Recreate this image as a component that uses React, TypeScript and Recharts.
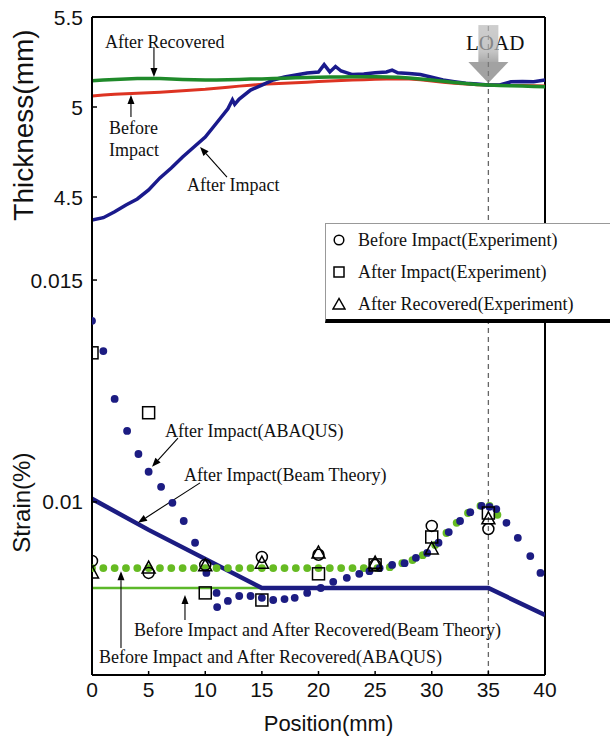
import { ComposedChart, Line, Scatter, XAxis, YAxis, ReferenceLine, ReferenceDot } from "recharts"

const SANS = '"Liberation Sans", Arial, sans-serif'
const SERIF = '"Liberation Serif", "Times New Roman", serif'

const positionTicks = [0, 5, 10, 15, 20, 25, 30, 35, 40]
const thicknessTicks = [4.5, 5, 5.5]
const strainTicks = [0.01, 0.015]

// thickness scan (mm), read every 1 mm
const scanPositions = [
  0, 1, 2, 3, 4, 5, 6, 7, 8, 9, 10, 11, 12, 13, 14, 15, 16, 17, 18, 19, 20,
  21, 22, 23, 24, 25, 26, 27, 28, 29, 30, 31, 32, 33, 34, 35, 36, 37, 38, 39, 40,
]
const beforeImpactThickness = [
  5.061, 5.066, 5.071, 5.074, 5.077, 5.079, 5.082, 5.086, 5.09, 5.094, 5.098,
  5.104, 5.11, 5.116, 5.121, 5.126, 5.129, 5.132, 5.135, 5.138, 5.141,
  5.144, 5.147, 5.15, 5.152, 5.154, 5.155, 5.156, 5.156, 5.151, 5.144,
  5.138, 5.132, 5.128, 5.124, 5.122, 5.121, 5.12, 5.119, 5.118, 5.117,
]
const afterRecoveredThickness = [
  5.146, 5.15, 5.153, 5.156, 5.158, 5.159, 5.158, 5.156, 5.153, 5.151, 5.15,
  5.15, 5.151, 5.153, 5.155, 5.156, 5.158, 5.16, 5.162, 5.164, 5.165,
  5.166, 5.167, 5.168, 5.168, 5.168, 5.167, 5.165, 5.161, 5.156, 5.15,
  5.143, 5.136, 5.13, 5.125, 5.122, 5.12, 5.118, 5.116, 5.114, 5.113,
]
const afterImpactScanPositions = [
  0, 1, 2, 3, 4, 5, 6, 7, 8, 9, 10, 11, 12, 12.4, 12.6, 13, 14, 15, 16, 17, 18,
  19, 20, 20.5, 21, 21.5, 22, 23, 24, 25, 26, 26.5, 27, 28, 29, 30, 31, 32, 33,
  34, 35, 36, 37, 38, 39, 40,
]
const afterImpactThickness = [
  4.372, 4.385, 4.418, 4.456, 4.489, 4.539, 4.606, 4.661, 4.722, 4.778, 4.833,
  4.911, 4.99, 5.04, 5.015, 5.044, 5.094, 5.122, 5.15, 5.167, 5.178,
  5.189, 5.194, 5.235, 5.195, 5.225, 5.2, 5.18, 5.183, 5.19, 5.195, 5.205,
  5.19, 5.186, 5.18, 5.165, 5.15, 5.141, 5.132, 5.128, 5.122, 5.122, 5.14,
  5.142, 5.14, 5.15,
]

// strain, experiment
const expPositions = [0, 5, 10, 15, 20, 25, 30, 35]
const beforeImpactExp = [0.00867, 0.0084, 0.00858, 0.00876, 0.00881, 0.00858, 0.00946, 0.00939]
const afterImpactExp = [0.01336, 0.01201, 0.00795, 0.00779, 0.00838, 0.00858, 0.00921, 0.00975]
const afterRecoveredExp = [0.0084, 0.00851, 0.00856, 0.00862, 0.00885, 0.00862, 0.00894, 0.00962]

// strain, ABAQUS
const afterImpactAbaqusPositions = [
  0, 1, 2, 3.1, 4.1, 5, 6.1, 7.1, 8.1, 9.1, 10.1, 11, 11.05, 12, 13, 14, 15, 16,
  17, 17.9, 19, 20.2, 21.3, 22.5, 23.6, 24.5, 25.4, 26.5, 27.6, 28.6, 29.6,
  30.6, 31.5, 32.5, 33.4, 34.4, 35.1, 35.7, 36.6, 37.6, 38.7, 39.6,
]
const afterImpactAbaqus = [
  0.01408, 0.0134, 0.01232, 0.0116, 0.01108, 0.01068, 0.01034, 0.00998,
  0.00957, 0.00908, 0.0084, 0.00795, 0.00763, 0.00777, 0.00788, 0.00788,
  0.00784, 0.00779, 0.00781, 0.00784, 0.00795, 0.00806, 0.0082, 0.00829,
  0.00838, 0.00844, 0.00851, 0.00858, 0.00862, 0.00874, 0.00885, 0.00908,
  0.00932, 0.00957, 0.00977, 0.00991, 0.00989, 0.00984, 0.00953, 0.00919,
  0.00878, 0.0084,
]
const recoveredAbaqusPositions = [
  0, 1, 2, 3, 4, 5, 6, 7, 8, 9, 10, 11, 12, 13, 14, 15, 16, 17, 18, 19, 20, 21,
  22, 23, 24, 25.2, 26.3, 27.4, 28.3, 29.2, 30.3, 31.3, 32.2, 33.2, 34.3, 35.1,
  35.8,
]
const recoveredAbaqus = [
  0.00851, 0.00851, 0.00851, 0.00851, 0.00851, 0.00851, 0.00851, 0.00851,
  0.00851, 0.00851, 0.00851, 0.00851, 0.00851, 0.00851, 0.00851, 0.00851,
  0.00851, 0.00851, 0.00851, 0.00851, 0.00851, 0.00851, 0.00851, 0.00851,
  0.00851, 0.00851, 0.00853, 0.00862, 0.00869, 0.0088, 0.00903, 0.0093,
  0.00953, 0.00975, 0.00991, 0.00991, 0.00971,
]

// strain, beam theory
const afterImpactBeamPositions = [0, 5, 15, 35, 40]
const afterImpactBeam = [0.01007, 0.00937, 0.00806, 0.00806, 0.00745]
const recoveredBeamPositions = [0, 15]
const recoveredBeam = [0.00806, 0.00806]

const legendItems = [
  { name: "Before Impact(Experiment)", symbol: "circle" },
  { name: "After Impact(Experiment)", symbol: "square" },
  { name: "After Recovered(Experiment)", symbol: "triangle" },
]

const zip = (xs: number[], ys: number[]) => xs.map((x, i) => ({ x, y: ys[i] }))

const NAVY = "#1c1c82"

const Arrow = (props: any) => {
  const { x1, y1, x2, y2 } = props
  const a = Math.atan2(y2 - y1, x2 - x1)
  const len = 9
  const w = 3.5
  const bx = x2 - len * Math.cos(a)
  const by = y2 - len * Math.sin(a)
  const p1 = `${bx + w * Math.sin(a)},${by - w * Math.cos(a)}`
  const p2 = `${bx - w * Math.sin(a)},${by + w * Math.cos(a)}`
  return (
    <g>
      <line x1={x1} y1={y1} x2={bx} y2={by} stroke="#000" strokeWidth={1.1} />
      <polygon points={`${x2},${y2} ${p1} ${p2}`} fill="#000" />
    </g>
  )
}

const note = (text: string, anchor: "start" | "middle" = "start", size = 18) => (p: any) => (
  <text
    x={p.cx}
    y={p.cy}
    textAnchor={anchor}
    dominantBaseline="central"
    fontFamily={SERIF}
    fontSize={size}
    fill="#111"
  >
    {text}
  </text>
)

const LoadArrow = (p: any) => {
  const { cx, cy } = p
  return (
    <g opacity={0.72}>
      <defs>
        <linearGradient id="loadShaft" x1="0" y1="0" x2="0" y2="1">
          <stop offset="0%" stopColor="#bcbcbc" />
          <stop offset="70%" stopColor="#b0b0b0" />
          <stop offset="100%" stopColor="#8a8a8a" />
        </linearGradient>
      </defs>
      <rect x={cx - 10} y={cy - 58} width={20} height={37} fill="url(#loadShaft)" />
      <polygon points={`${cx - 20},${cy - 21} ${cx + 20},${cy - 21} ${cx},${cy}`} fill="#7f7f7f" />
    </g>
  )
}

const YTick = (props: any) => {
  const { x, y, payload } = props
  return (
    <g>
      <line x1={x + 9} x2={x + 14} y1={y} y2={y} stroke="#000" strokeWidth={1.5} />
      <text x={x} y={y} textAnchor="end" dominantBaseline="central" fontFamily={SANS} fontSize={21} fill="#111">
        {payload.value}
      </text>
    </g>
  )
}

const XTick = (props: any) => {
  const { x, y, payload } = props
  return (
    <g>
      <line x1={x} x2={x} y1={y - 4} y2={y} stroke="#000" strokeWidth={1.5} />
      <text x={x} y={y + 14} textAnchor="middle" dominantBaseline="central" fontFamily={SANS} fontSize={21} fill="#111">
        {payload.value}
      </text>
    </g>
  )
}

const yTitle = (text: string, size: number, dx: number, fy: number) => (props: any) => {
  const { viewBox } = props
  const cx = viewBox.x + dx
  const cy = viewBox.y + viewBox.height * fy
  return (
    <text
      x={cx}
      y={cy}
      transform={`rotate(-90 ${cx} ${cy})`}
      textAnchor="middle"
      dominantBaseline="central"
      fontFamily={SANS}
      fontSize={size}
      fill="#111"
    >
      {text}
    </text>
  )
}

const xTitle = (props: any) => {
  const { viewBox } = props
  return (
    <text
      x={viewBox.x + viewBox.width / 2 + 10}
      y={viewBox.y + 48}
      textAnchor="middle"
      dominantBaseline="central"
      fontFamily={SANS}
      fontSize={22}
      fill="#111"
    >
      Position(mm)
    </text>
  )
}

const OpenCircle = (p: any) => <circle cx={p.cx} cy={p.cy} r={5.5} fill="none" stroke="#000" strokeWidth={1.5} />
const OpenSquare = (p: any) => (
  <rect x={p.cx - 6} y={p.cy - 6} width={12} height={12} fill="none" stroke="#000" strokeWidth={1.5} />
)
const OpenTriangle = (p: any) => (
  <polygon
    points={`${p.cx},${p.cy - 7} ${p.cx - 6.5},${p.cy + 5} ${p.cx + 6.5},${p.cy + 5}`}
    fill="none"
    stroke="#000"
    strokeWidth={1.5}
  />
)
const NavyDot = (p: any) => <circle cx={p.cx} cy={p.cy} r={3.9} fill={NAVY} />
const GreenDot = (p: any) => <circle cx={p.cx} cy={p.cy} r={3.9} fill="#66bb22" />

const LegendSymbol = ({ symbol }: { symbol: string }) => (
  <svg width={14} height={14} style={{ display: "block" }}>
    {symbol === "circle" && <circle cx={7} cy={7} r={4.8} fill="none" stroke="#000" strokeWidth={1.5} />}
    {symbol === "square" && <rect x={2} y={2} width={10} height={10} fill="none" stroke="#000" strokeWidth={1.5} />}
    {symbol === "triangle" && <polygon points="7,1.5 1,12 13,12" fill="none" stroke="#000" strokeWidth={1.5} />}
  </svg>
)

export default function App() {
  return (
    <div style={{ position: "absolute", left: 0, top: 0, width: 610, height: 736, overflow: "hidden", background: "#fff" }}>
      {/* thickness panel */}
      <div style={{ position: "absolute", left: 0, top: 0 }}>
        <ComposedChart width={610} height={233} margin={{ top: 17, right: 65, bottom: 0, left: 0 }}>
          <XAxis dataKey="x" type="number" domain={[0, 40]} allowDataOverflow hide />
          <YAxis
            dataKey="y"
            type="number"
            width={92}
            domain={[4.3, 5.5]}
            ticks={thicknessTicks}
            allowDataOverflow
            tickSize={0}
            tickMargin={9}
            tickLine={false}
            tick={<YTick />}
            axisLine={{ stroke: "#000", strokeWidth: 2 }}
            label={yTitle("Thickness(mm)", 28, 23, 0.5)}
          />
          <ReferenceLine y={5.5} stroke="#000" strokeWidth={2} />
          <ReferenceLine x={40} stroke="#000" strokeWidth={2} />
          <ReferenceLine segment={[{ x: 35, y: 5.45 }, { x: 35, y: 4.3 }]} stroke="#666" strokeDasharray="5 4" strokeWidth={1.3} />
          <Line data={zip(scanPositions, beforeImpactThickness)} dataKey="y" type="linear" stroke="#dd3322" strokeWidth={3} dot={false} isAnimationActive={false} />
          <Line data={zip(afterImpactScanPositions, afterImpactThickness)} dataKey="y" type="linear" stroke="#1a1a8c" strokeWidth={3.5} dot={false} isAnimationActive={false} />
          <Line data={zip(scanPositions, afterRecoveredThickness)} dataKey="y" type="linear" stroke="#1f8a2a" strokeWidth={3.5} dot={false} isAnimationActive={false} />
          <ReferenceDot x={35.6} y={5.356} shape={note("LOAD", "middle", 21)} />
          <ReferenceDot x={35} y={5.133} shape={LoadArrow} />
          <ReferenceDot x={1.15} y={5.361} shape={note("After Recovered")} />
          <ReferenceLine segment={[{ x: 5.47, y: 5.333 }, { x: 5.47, y: 5.167 }]} shape={Arrow} />
          <ReferenceDot x={1.5} y={4.883} shape={note("Before")} />
          <ReferenceDot x={1.5} y={4.761} shape={note("Impact")} />
          <ReferenceLine segment={[{ x: 3.44, y: 4.944 }, { x: 3.44, y: 5.067 }]} shape={Arrow} />
          <ReferenceDot x={8.39} y={4.567} shape={note("After Impact")} />
          <ReferenceLine segment={[{ x: 11.92, y: 4.611 }, { x: 9.54, y: 4.778 }]} shape={Arrow} />
        </ComposedChart>
      </div>

      {/* strain panel */}
      <div style={{ position: "absolute", left: 0, top: 0 }}>
        <ComposedChart width={610} height={736} margin={{ top: 233, right: 65, bottom: 0, left: 0 }}>
          <XAxis
            dataKey="x"
            type="number"
            domain={[0, 40]}
            ticks={positionTicks}
            allowDataOverflow
            height={61}
            tickSize={0}
            tickMargin={0}
            tickLine={false}
            tick={<XTick />}
            axisLine={{ stroke: "#000", strokeWidth: 2 }}
            label={xTitle}
          />
          <YAxis
            dataKey="y"
            type="number"
            width={92}
            domain={[0.0061, 0.01606]}
            ticks={strainTicks}
            allowDataOverflow
            tickSize={0}
            tickMargin={9}
            tickLine={false}
            tick={<YTick />}
            axisLine={{ stroke: "#000", strokeWidth: 2 }}
            label={yTitle("Strain(%)", 24, 22, 0.61)}
          />
          <ReferenceLine x={40} stroke="#000" strokeWidth={2} />
          <ReferenceLine x={35} stroke="#666" strokeDasharray="5 4" strokeWidth={1.3} />
          <Line data={zip(recoveredBeamPositions, recoveredBeam)} dataKey="y" type="linear" stroke="#5cb82a" strokeWidth={2.5} dot={false} isAnimationActive={false} />
          <Scatter data={zip(recoveredAbaqusPositions, recoveredAbaqus)} dataKey="y" shape={GreenDot} isAnimationActive={false} />
          <Scatter data={zip(afterImpactAbaqusPositions, afterImpactAbaqus)} dataKey="y" shape={NavyDot} isAnimationActive={false} />
          <Line data={zip(afterImpactBeamPositions, afterImpactBeam)} dataKey="y" type="linear" stroke={NAVY} strokeWidth={4.5} dot={false} isAnimationActive={false} />
          <Scatter data={zip(expPositions, beforeImpactExp)} dataKey="y" shape={OpenCircle} isAnimationActive={false} />
          <Scatter data={zip(expPositions, afterImpactExp)} dataKey="y" shape={OpenSquare} isAnimationActive={false} />
          <Scatter data={zip(expPositions, afterRecoveredExp)} dataKey="y" shape={OpenTriangle} isAnimationActive={false} />
          <ReferenceDot x={6.45} y={0.0116} shape={note("After Impact(ABAQUS)")} />
          <ReferenceLine segment={[{ x: 7.59, y: 0.01144 }, { x: 5.3, y: 0.01079 }]} shape={Arrow} />
          <ReferenceDot x={8.12} y={0.01061} shape={note("After Impact(Beam Theory)")} />
          <ReferenceLine segment={[{ x: 9.54, y: 0.01043 }, { x: 4.06, y: 0.00953 }]} shape={Arrow} />
          <ReferenceDot x={3.71} y={0.00711} shape={note("Before Impact and After Recovered(Beam Theory)")} />
          <ReferenceLine segment={[{ x: 8.21, y: 0.00734 }, { x: 8.21, y: 0.0079 }]} shape={Arrow} />
          <ReferenceDot x={0.62} y={0.00651} shape={note("Before Impact and After Recovered(ABAQUS)")} />
          <ReferenceLine segment={[{ x: 2.56, y: 0.00671 }, { x: 2.56, y: 0.00844 }]} shape={Arrow} />
        </ComposedChart>
      </div>

      {/* legend */}
      <div
        style={{
          position: "absolute",
          left: 325,
          top: 223,
          width: 300,
          height: 100,
          boxSizing: "border-box",
          background: "#fff",
          borderTop: "1px solid #999",
          borderLeft: "1px solid #999",
          borderBottom: "4px solid #000",
          fontFamily: SERIF,
          fontSize: 18,
          color: "#111",
        }}
      >
        {legendItems.map((item) => (
          <div key={item.name} style={{ display: "flex", alignItems: "center", height: 32, paddingLeft: 6 }}>
            <LegendSymbol symbol={item.symbol} />
            <span style={{ marginLeft: 12, whiteSpace: "nowrap" }}>{item.name}</span>
          </div>
        ))}
      </div>
    </div>
  )
}
